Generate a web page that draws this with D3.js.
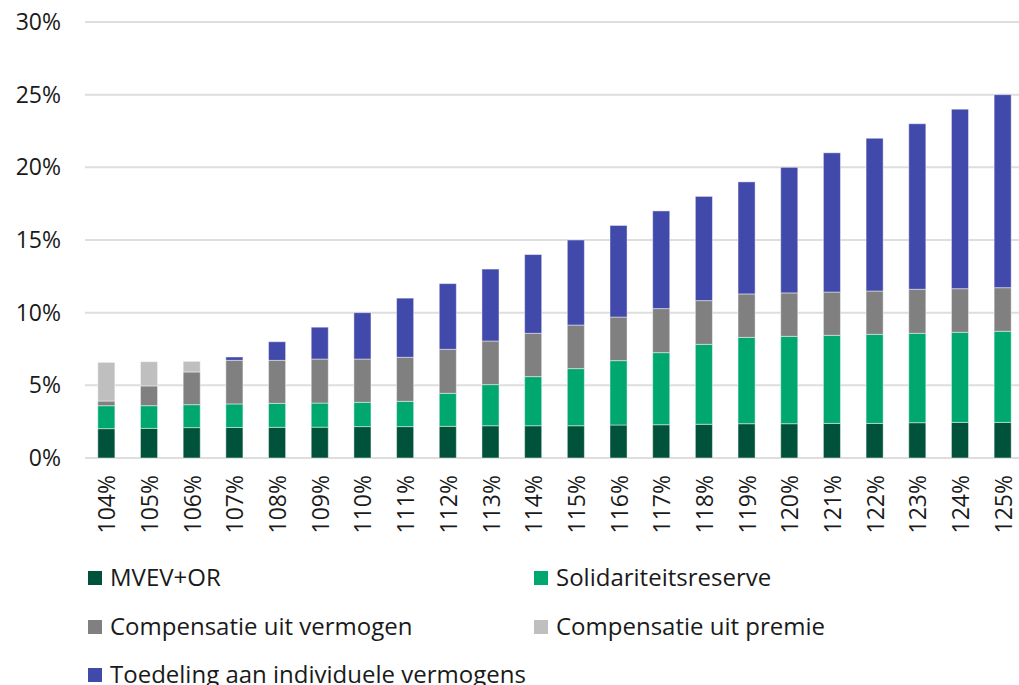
<!DOCTYPE html>
<html>
<head>
<meta charset="utf-8">
<script src="https://cdn.jsdelivr.net/npm/d3@7"></script>
<style>
  body { margin: 0; background: #fff; }
  text { font-family: "Open Sans", "Noto Sans", sans-serif; fill: #1a1a1a; }
</style>
</head>
<body>
<div class="chart"></div>
<script>
// categories (dekkingsgraad)
const categories = ["104%", "105%", "106%", "107%", "108%", "109%", "110%", "111%", "112%", "113%", "114%",
  "115%", "116%", "117%", "118%", "119%", "120%", "121%", "122%", "123%", "124%", "125%"];

// series values, in % points
const mvevOr = [2.02, 2.04, 2.09, 2.10, 2.11, 2.12, 2.16, 2.16, 2.18, 2.22, 2.22,
  2.22, 2.27, 2.29, 2.32, 2.36, 2.36, 2.38, 2.38, 2.43, 2.45, 2.45];
const solidariteit = [1.58, 1.56, 1.58, 1.62, 1.65, 1.66, 1.67, 1.74, 2.27, 2.83, 3.38,
  3.93, 4.43, 4.96, 5.50, 5.94, 6.01, 6.06, 6.13, 6.15, 6.20, 6.27];
const compVermogen = [0.32, 1.36, 2.25, 3.00, 2.96, 3.03, 2.98, 3.03, 3.03, 3.00, 2.98,
  3.00, 3.00, 3.03, 3.01, 2.99, 2.99, 2.98, 2.98, 3.03, 3.00, 3.00];
const compPremie = [2.66, 1.67, 0.73, 0, 0, 0, 0, 0, 0, 0, 0,
  0, 0, 0, 0, 0, 0, 0, 0, 0, 0, 0];
const toedeling = [0, 0, 0, 0.23, 1.28, 2.19, 3.19, 4.07, 4.52, 4.95, 5.42,
  5.85, 6.30, 6.72, 7.17, 7.71, 8.64, 9.58, 10.51, 11.39, 12.35, 13.28];

const seriesNames = ["MVEV+OR", "Solidariteitsreserve", "Compensatie uit vermogen",
  "Compensatie uit premie", "Toedeling aan individuele vermogens"];
const seriesColors = ["#00533a", "#00a870", "#808080", "#bfbfbf", "#4149ab"];
const yTicks = [0, 5, 10, 15, 20, 25, 30];

const W = 1019, H = 685;
const margin = { left: 85, right: -5, top: 22, bottom: 227 };

const svg = d3.select(".chart").append("svg")
  .attr("width", W).attr("height", H);

// table for the stack
const table = categories.map((c, i) => ({
  cat: c,
  s0: mvevOr[i], s1: solidariteit[i], s2: compVermogen[i], s3: compPremie[i], s4: toedeling[i]
}));
const keys = ["s0", "s1", "s2", "s3", "s4"];
const stacked = d3.stack().keys(keys)(table);

const x = d3.scaleBand()
  .domain(categories)
  .range([margin.left, W - margin.right])
  .paddingInner(0.6)
  .paddingOuter(0.3);

const y = d3.scaleLinear()
  .domain([0, 30])
  .range([H - margin.bottom, margin.top]);

// gridlines
svg.append("g")
  .selectAll("line")
  .data(yTicks)
  .join("line")
  .attr("x1", margin.left).attr("x2", W)
  .attr("y1", d => y(d)).attr("y2", d => y(d))
  .attr("stroke", "#dedede")
  .attr("stroke-width", 2);

// y axis labels
const yAxis = d3.axisLeft(y).tickValues(yTicks).tickFormat(d => d + "%").tickSize(0).tickPadding(0);
svg.append("g")
  .attr("transform", `translate(61,0)`)
  .call(yAxis)
  .call(g => g.select(".domain").remove())
  .selectAll("text")
  .style("font-size", "23px")
  .attr("fill", "#1a1a1a");

// bars
svg.append("g")
  .selectAll("g")
  .data(stacked)
  .join("g")
  .attr("fill", (d, i) => seriesColors[i])
  .selectAll("rect")
  .data(d => d.filter(p => p[1] - p[0] > 0))
  .join("rect")
  .attr("x", d => x(d.data.cat))
  .attr("width", x.bandwidth())
  .attr("y", d => y(d[1]))
  .attr("height", d => y(d[0]) - y(d[1]))
  .attr("stroke", "rgba(255,255,255,0.45)")
  .attr("stroke-width", 1);

// x axis labels, rotated
const xAxis = d3.axisBottom(x).tickSize(0).tickPadding(0);
svg.append("g")
  .attr("transform", `translate(0,${y(0)})`)
  .call(xAxis)
  .call(g => g.select(".domain").remove())
  .selectAll("text")
  .style("font-size", "23px")
  .attr("fill", "#1a1a1a")
  .attr("text-anchor", "end")
  .attr("dy", "0.35em")
  .attr("transform", "translate(1,17) rotate(-90)");

// legend
const legendPos = [[88, 578], [534, 578], [88, 627], [534, 627], [88, 675]];
const legend = svg.append("g")
  .selectAll("g")
  .data(seriesNames)
  .join("g")
  .attr("transform", (d, i) => `translate(${legendPos[i][0]},${legendPos[i][1]})`);
legend.append("rect")
  .attr("x", 0).attr("y", -7)
  .attr("width", 14).attr("height", 14)
  .attr("fill", (d, i) => seriesColors[i]);
legend.append("text")
  .attr("x", 22).attr("y", 0)
  .attr("dy", "0.35em")
  .style("font-size", "24px")
  .text(d => d);
</script>
</body>
</html>
